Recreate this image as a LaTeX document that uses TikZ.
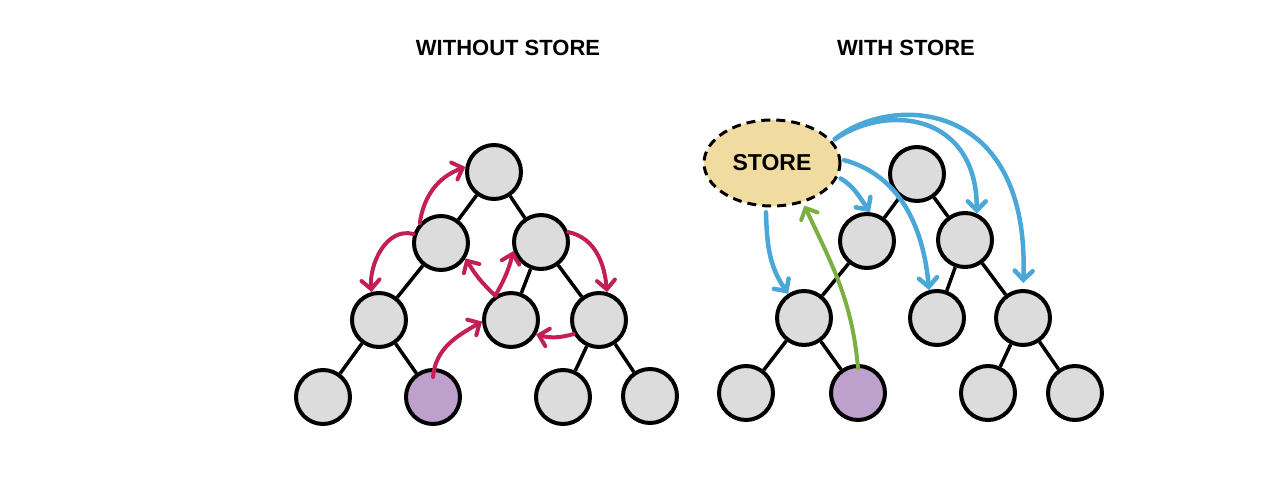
\documentclass[tikz,border=0pt]{standalone}
\usepackage{fontspec}
\setmainfont{Liberation Sans}
\usetikzlibrary{arrows.meta,shapes.geometric}
\definecolor{nodegray}{HTML}{DCDCDC}
\definecolor{nodepurple}{HTML}{BEA0CD}
\definecolor{storefill}{HTML}{F0DCA0}
\definecolor{redarr}{HTML}{C41E56}
\definecolor{bluearr}{HTML}{4AA8D8}
\definecolor{greenarr}{HTML}{7CAF42}
\tikzset{
  tnode/.style={circle,draw=black,line width=4pt,fill=nodegray,minimum size=54pt,inner sep=0pt},
  pnode/.style={tnode,fill=nodepurple},
  tedge/.style={line width=3.5pt,black},
  arr/.style={line width=4pt,line cap=round,-{Straight Barb[length=9pt,width=18pt,line cap=round]}},
  redA/.style={arr,redarr},
  blueA/.style={arr,bluearr,line width=4.5pt},
  greenA/.style={arr,greenarr},
  title/.style={font=\bfseries\fontsize{22}{22}\selectfont},
  storebox/.style={ellipse,draw=black,line width=3pt,dash pattern=on 9pt off 6pt,fill=storefill,
    minimum width=136pt,minimum height=86pt,inner sep=0pt,font=\bfseries\fontsize{23}{23}\selectfont}
}
\begin{document}
\begin{tikzpicture}[x=1pt,y=-1pt]
\useasboundingbox (0,0) rectangle (1274,484);
% titles
\node[title] (t1) at (508,48) {WITHOUT STORE};
\node[title] (t2) at (906,48) {WITH STORE};
% ---------- left tree ----------
\node[tnode] (A) at (494,172) {};
\node[tnode] (B) at (441,243) {};
\node[tnode] (C) at (541,242) {};
\node[tnode] (D) at (379,320) {};
\node[tnode] (E) at (511,320) {};
\node[tnode] (F) at (599,320) {};
\node[tnode] (G) at (323,397) {};
\node[pnode] (H) at (433,397) {};
\node[tnode] (I) at (563,397) {};
\node[tnode] (J) at (650,396) {};
\draw[tedge] (A) -- (B);
\draw[tedge] (A) -- (C);
\draw[tedge] (B) -- (D);
\draw[tedge] (C) -- (E);
\draw[tedge] (C) -- (F);
\draw[tedge] (D) -- (G);
\draw[tedge] (D) -- (H);
\draw[tedge] (F) -- (I);
\draw[tedge] (F) -- (J);
% red arrows
\draw[redA] (B.137) to[out=82,in=-160] (A.170);
\draw[redA] (B.162) to[out=165,in=95] (D.105);
\draw[redA] (C.20) to[out=-12,in=95] (F.74);
\coordinate (V) at (E.123);
\draw[redA] (V) to[bend left=8] (B.-32);
\draw[redA] (V) to[bend right=8] (C.198);
\draw[redA] (F.209) to[bend left=15] (E.-30);
\draw[redA] ([yshift=20pt]H.center) to[out=85,in=-150] (E.183);
% ---------- right tree ----------
\node[storebox] (S) at (772,163) {STORE};
\node[tnode] (RA) at (917,174) {};
\node[tnode] (RB) at (867,241) {};
\node[tnode] (RC) at (965,240) {};
\node[tnode] (RD) at (804,318) {};
\node[tnode] (RE) at (937,318) {};
\node[tnode] (RF) at (1023,318) {};
\node[tnode] (RG) at (746,393) {};
\node[pnode] (RH) at (858,393) {};
\node[tnode] (RI) at (988,393) {};
\node[tnode] (RJ) at (1075,393) {};
\draw[tedge] (RA) -- (RB);
\draw[tedge] (RA) -- (RC);
\draw[tedge] (RB) -- (RD);
\draw[tedge] (RC) -- (RE);
\draw[tedge] (RC) -- (RF);
\draw[tedge] (RD) -- (RG);
\draw[tedge] (RD) -- (RH);
\draw[tedge] (RF) -- (RI);
\draw[tedge] (RF) -- (RJ);
% blue arrows
\draw[blueA,shorten <=5pt] (S.262) to[out=-88,in=125] (RD.123);
\draw[blueA,shorten <=3pt] (S.-12) to[out=-30,in=125] (RB.84);
\draw[blueA,shorten <=3pt] (S.3) to[out=-15,in=95] (RE.106);
\draw[blueA,shorten <=3pt] (S.20) .. controls +(55,-38) and +(0,-100) .. (RC.66);
\draw[blueA,shorten <=3pt,shorten >=6pt] (S.20) .. controls +(60,-48) and +(7,-190) .. (RF.90);
% green arrow
\draw[greenA,shorten >=3pt] ([yshift=25pt]RH.center) to[out=95,in=-65] (S.-52);
\end{tikzpicture}
\end{document}
